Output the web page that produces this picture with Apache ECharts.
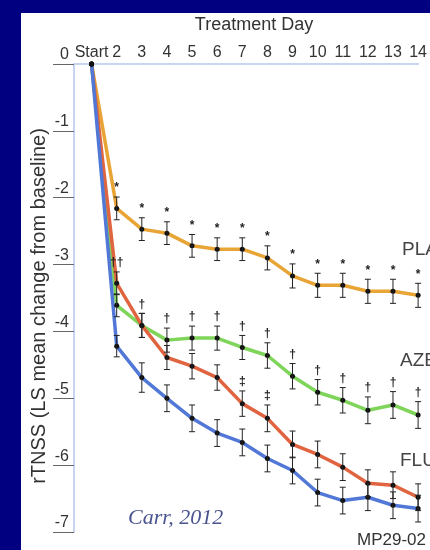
<!DOCTYPE html>
<html>
<head>
<meta charset="utf-8">
<script src="https://cdn.jsdelivr.net/npm/echarts@6/dist/echarts.min.js"></script>
<style>
  html, body { margin: 0; padding: 0; background: #000080; }
  #wrap { position: relative; width: 430px; height: 550px; background: #000080; overflow: hidden; }
  #panel { position: absolute; left: 21px; top: 13px; width: 409px; height: 537px; background: #ffffff; }
  #chart { position: absolute; left: 0; top: 0; width: 430px; height: 550px; }
</style>
</head>
<body>
<div id="wrap"><div id="panel"></div><div id="chart"></div></div>
<script>
// ---- data ----
const days = [1, 2, 3, 4, 5, 6, 7, 8, 9, 10, 11, 12, 13, 14];
const dayLabels = ['Start', '2', '3', '4', '5', '6', '7', '8', '9', '10', '11', '12', '13', '14'];
const yTicks = [0, -1, -2, -3, -4, -5, -6, -7];
const seriesNames = ['PLA', 'AZE', 'FLU', 'MP29-02'];

const placebo = [0, -2.16, -2.47, -2.53, -2.72, -2.77, -2.77, -2.90, -3.17, -3.31, -3.31, -3.40, -3.40, -3.46];
const aze     = [0, -3.61, -3.91, -4.13, -4.10, -4.10, -4.24, -4.36, -4.67, -4.91, -5.03, -5.18, -5.10, -5.25];
const flu     = [0, -3.28, -3.91, -4.39, -4.52, -4.69, -5.08, -5.30, -5.69, -5.84, -6.03, -6.27, -6.30, -6.48];
const mp2902  = [0, -4.22, -4.69, -5.00, -5.30, -5.52, -5.66, -5.90, -6.08, -6.41, -6.53, -6.48, -6.60, -6.65];

const placeboErr = [null, 0.17, 0.17, 0.17, 0.17, 0.17, 0.17, 0.18, 0.18, 0.18, 0.18, 0.18, 0.18, 0.18];
const azeErr     = [null, 0.17, 0.18, 0.18, 0.18, 0.18, 0.18, 0.19, 0.19, 0.19, 0.19, 0.2, 0.2, 0.2];
const fluErr     = [null, 0.17, 0.18, 0.18, 0.19, 0.19, 0.19, 0.2, 0.2, 0.2, 0.2, 0.2, 0.2, 0.2];
const mpErr      = [null, 0.16, 0.22, 0.2, 0.2, 0.2, 0.2, 0.2, 0.2, 0.2, 0.2, 0.2, 0.2, 0.2];

const placeboMarks = ['', '*', '*', '*', '*', '*', '*', '*', '*', '*', '*', '*', '*', '*'];
const azeMarks     = ['', '', '†', '†', '†', '†', '†', '†', '†', '†', '†', '†', '†', '†'];
const fluMarks     = ['', '††', '', '', '', '', '‡', '‡', '', '', '', '', '', ''];
const mpMarks      = ['', '', '', '', '', '', '', '', '', '', '', '', '', ''];

// ---- chart ----
const chart = echarts.init(document.getElementById('chart'), null, { renderer: 'canvas' });
const SANS = '"Liberation Sans", Arial, sans-serif';

function lineSeries(name, vals, color) {
  return {
    type: 'line', name: name,
    data: days.map((d, i) => [d, vals[i]]),
    symbol: 'circle', symbolSize: 5, showSymbol: true,
    itemStyle: { color: '#111' },
    lineStyle: { color: color, width: 3.5 },
    z: 2, silent: true, animation: false
  };
}

function errSeries(vals, errs, marks) {
  const rows = [];
  days.forEach((d, i) => { if (errs[i] != null) rows.push([d, vals[i], errs[i], i]); });
  return {
    type: 'custom', data: rows, z: 4, silent: true, animation: false,
    renderItem: function (params, api) {
      const x = api.value(0), v = api.value(1), e = api.value(2), idx = api.value(3);
      const top = api.coord([x, v + e]);
      const bot = api.coord([x, v - e]);
      const c = 3;
      const st = { stroke: '#222', lineWidth: 1 };
      const children = [
        { type: 'line', shape: { x1: top[0], y1: top[1], x2: bot[0], y2: bot[1] }, style: st },
        { type: 'line', shape: { x1: top[0] - c, y1: top[1], x2: top[0] + c, y2: top[1] }, style: st },
        { type: 'line', shape: { x1: bot[0] - c, y1: bot[1], x2: bot[0] + c, y2: bot[1] }, style: st }
      ];
      const m = marks[idx];
      if (m) {
        children.push({ type: 'text', x: top[0], y: top[1] - 3,
          style: { text: m, align: 'center', verticalAlign: 'bottom', fill: '#222', font: 'bold 12px ' + SANS } });
      }
      return { type: 'group', children: children };
    }
  };
}

const option = {
  animation: false,
  grid: { left: 74, right: 0, top: 64, bottom: 18 },
  xAxis: {
    type: 'value', position: 'top', min: 0.3, max: 14,
    axisLine: { show: true, lineStyle: { color: '#c8d5f2', width: 2 } },
    axisTick: { show: false },
    splitLine: { show: false },
    axisLabel: {
      customValues: days,
      formatter: function (v) { const i = days.indexOf(v); return i >= 0 ? dayLabels[i] : ''; },
      color: '#333', fontSize: 16, margin: 3, fontFamily: SANS
    }
  },
  yAxis: {
    type: 'value', min: -7, max: 0, interval: 1,
    axisLine: { show: true, lineStyle: { color: '#c8d5f2', width: 2 } },
    axisTick: { show: true, length: 21, lineStyle: { color: '#666', width: 1 } },
    splitLine: { show: false },
    axisLabel: {
      customValues: yTicks,
      color: '#333', fontSize: 16, margin: 5, align: 'right', verticalAlign: 'bottom',
      padding: [0, 0, 1, 0], fontFamily: SANS
    }
  },
  series: [
    lineSeries(seriesNames[0], placebo, '#e9a436'),
    lineSeries(seriesNames[1], aze, '#7fd45a'),
    lineSeries(seriesNames[2], flu, '#e0643f'),
    lineSeries(seriesNames[3], mp2902, '#5178d6'),
    errSeries(placebo, placeboErr, placeboMarks),
    errSeries(aze, azeErr, azeMarks),
    errSeries(flu, fluErr, fluMarks),
    errSeries(mp2902, mpErr, mpMarks)
  ],
  graphic: [
    { type: 'text', x: 254, y: 25, style: { text: 'Treatment Day', align: 'center', verticalAlign: 'middle', font: '18px ' + SANS, fill: '#333' } },
    { type: 'text', x: 39, y: 306, rotation: Math.PI / 2,
      style: { text: 'rTNSS (LS mean change from baseline)', align: 'center', verticalAlign: 'middle', font: '20px ' + SANS, fill: '#333' } },
    { type: 'text', x: 402, y: 250, style: { text: seriesNames[0], verticalAlign: 'middle', font: '19px ' + SANS, fill: '#444' } },
    { type: 'text', x: 400, y: 361, style: { text: seriesNames[1], verticalAlign: 'middle', font: '19px ' + SANS, fill: '#444' } },
    { type: 'text', x: 400, y: 461, style: { text: seriesNames[2], verticalAlign: 'middle', font: '19px ' + SANS, fill: '#444' } },
    { type: 'text', x: 357, y: 540, style: { text: seriesNames[3], verticalAlign: 'middle', font: '17px ' + SANS, fill: '#333' } },
    { type: 'text', x: 128, y: 518, style: { text: 'Carr, 2012', verticalAlign: 'middle', font: 'italic 22px "Liberation Serif", "Times New Roman", serif', fill: '#4a5490' } }
  ]
};
chart.setOption(option);
</script>
</body>
</html>
